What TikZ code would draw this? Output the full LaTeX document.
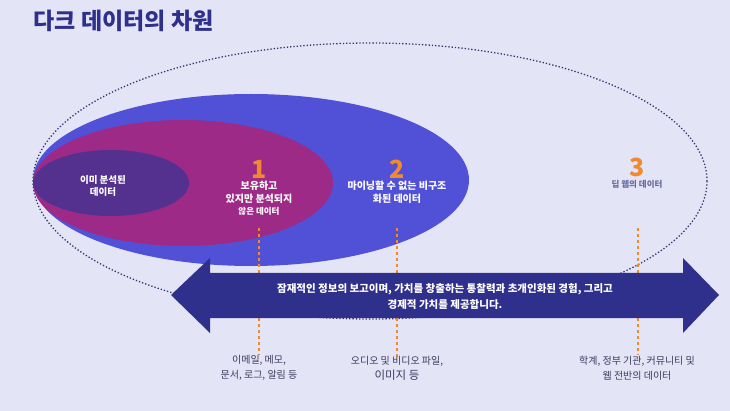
\documentclass[tikz,border=0pt]{standalone}
\usepackage{fontspec}
\setmainfont{Noto Sans CJK KR}
\usetikzlibrary{positioning}

\definecolor{bgpale}{HTML}{E4E4F7}
\definecolor{navy}{HTML}{2F2F8C}
\definecolor{dotnavy}{HTML}{34346E}
\definecolor{outerblue}{HTML}{5151D8}
\definecolor{midmagenta}{HTML}{9C2A86}
\definecolor{innerpurple}{HTML}{54318F}
\definecolor{accent}{HTML}{F08A30}
\definecolor{labelgray}{HTML}{3C3C5E}
\definecolor{deepgray}{HTML}{6B6B9E}

\tikzset{
    inlabel/.style={text=white, align=center, font=\fontsize{10}{12.5}\selectfont\bfseries},
    numlabel/.style={text=accent, font=\fontsize{25}{25}\selectfont\bfseries},
    bottomlabel/.style={text=labelgray, align=center, font=\fontsize{10}{15}\selectfont},
    guide/.style={accent, dashed, line width=1.2pt}
}

\begin{document}
\begin{tikzpicture}[x=1pt, y=-1pt]

    % --- Background ---
    \fill[bgpale] (0,0) rectangle (730,411);
    \useasboundingbox (0,0) rectangle (730,411);

    % --- Title ---
    \node[anchor=west, text=navy, font=\fontsize{23}{23}\selectfont\bfseries] (title) at (30,21) {다크 데이터의 차원};

    % --- Dotted outer ellipse (deep web) ---
    \draw[dotnavy, line width=1.3pt, dotted] (370,181) ellipse [x radius=337, y radius=138];

    % --- Nested ellipses ---
    \fill[outerblue] (251,180) ellipse [x radius=218, y radius=86];
    \fill[midmagenta] (183,183) ellipse [x radius=150, y radius=63];
    \fill[innerpurple] (111,183) ellipse [x radius=78, y radius=33];

    % --- Labels inside ---
    \node[inlabel, font=\fontsize{9.5}{12.5}\selectfont\bfseries] (known) at (103,186) {이미 분석된\\데이터};

    \node[numlabel] (num1) at (259,169) {1};
    \node[inlabel, below=-4pt of num1] (held) {보유하고\\있지만 분석되지\\{\fontsize{8.5}{11}\selectfont 않은 데이터}};

    \node[numlabel] (num2) at (397,169) {2};
    \node[inlabel, below=-4pt of num2] (unstruct) {마이닝할 수 없는 비구조\\화된 데이터};

    \node[numlabel] (num3) at (637,167) {3};
    \node[inlabel, text=deepgray, font=\fontsize{8.5}{10}\selectfont\bfseries, below=-3pt of num3] (deep) {딥 웹의 데이터};

    % --- Dashed guides ---
    \coordinate (g1a) at (259,228);
    \coordinate (g1b) at (259,355);
    \coordinate (g2a) at (397,228);
    \coordinate (g2b) at (397,357);
    \coordinate (g3a) at (638,228);
    \coordinate (g3b) at (638,355);
    \draw[guide] (g1a) -- (g1b);
    \draw[guide] (g2a) -- (g2b);
    \draw[guide] (g3a) -- (g3b);

    % --- Double arrow ---
    \fill[navy] (171,295) -- (210,258) -- (210,273) -- (683,273) -- (683,258)
        -- (719,295) -- (683,333) -- (683,318) -- (210,318) -- (210,333) -- cycle;
    \node[inlabel, font=\fontsize{10.5}{16}\selectfont\bfseries] (value) at (445,297)
        {잠재적인 정보의 보고이며, 가치를 창출하는 통찰력과 초개인화된 경험, 그리고\\경제적 가치를 제공합니다.};

    % --- Bottom labels ---
    \node[bottomlabel] (ex1) at (259,368) {이메일, 메모,\\문서, 로그, 알림 등};
    \node[bottomlabel] (ex2) at (397,368) {오디오 및 비디오 파일,\\{\fontsize{11.5}{15}\selectfont 이미지 등}};
    \node[bottomlabel] (ex3) at (637,368) {학계, 정부 기관, 커뮤니티 및\\웹 전반의 데이터};

\end{tikzpicture}
\end{document}
